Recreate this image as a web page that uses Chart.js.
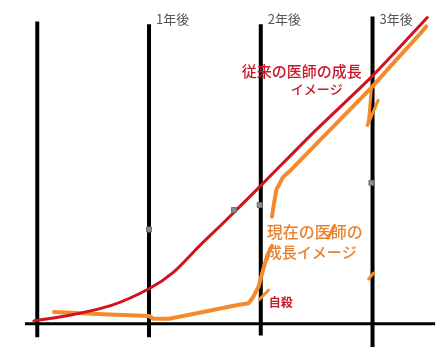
<!DOCTYPE html>
<html>
<head>
<meta charset="utf-8">
<script src="https://cdn.jsdelivr.net/npm/chart.js@4"></script>
<style>
  body { margin: 0; background: #fff; }
  canvas { display: block; }
</style>
</head>
<body>
<canvas class="growth-chart" width="444" height="354"></canvas>
<script>
// years after graduation (x) and "growth" level (y)
const redYears = [-0.03, 0.3, 0.67, 1.0, 1.22, 1.46, 1.65, 2.0, 2.5, 3.0, 3.49];
const redValues = [0.9, 2.8, 6.0, 11.3, 16.7, 25.5, 32.1, 44.7, 62.9, 80.2, 99.1];

const orangeYears = [0.15, 0.59, 1.0, 1.04, 1.18, 1.35, 1.65, 1.78, 1.89, 1.93, 1.98, 2.02, 2.06, 2.1,
    2.1, 2.1, 2.12, 2.14, 2.2, 2.26, 2.53, 2.82, 2.99, 3.2, 3.43, 3.48];
const orangeValues = [3.8, 3.1, 2.5, 1.6, 1.6, 2.8, 5.0, 6.0, 6.6, 8.5, 12.0, 17.3, 22.3, 25.2,
    null, 34.6, 39.3, 43.4, 47.5, 49.4, 59.4, 70.1, 76.4, 84.9, 94.0, 96.2];

// little extra brush strokes on the orange curve
const strokes = [
    { years: [2.99, 2.965, 2.95, 3.05], values: [76.1, 66.0, 63.8, 72.3] },
    { years: [2.965, 3.01], values: [14.5, 16.4] },
    { years: [2.6, 2.66], values: [27.7, 31.8] },
    { years: [1.99, 2.07], values: [7.9, 10.9] },
];

const markerYears = [1.0, 1.76, 1.99, 2.99];
const markerValues = [30.5, 36.8, 38.4, 45.6];

const gridYears = [0, 1, 2, 3];
const gridTop = [97.8, 96.9, 96.9, 99.4];
const gridBottom = [-4.4, -4.4, -3.8, -7.5];
const axisFrom = -0.11;
const axisTo = 3.56;

const yearLabels = ["1年後", "2年後", "3年後"];
const yearLabelAt = [1, 2, 3];

const toPoints = (xs, ys) => xs.map((v, i) => ({ x: v, y: ys[i] }));

const red = "#d0141e";
const orange = "#f58a2c";

const datasets = [];

gridYears.forEach((yr, i) => {
    datasets.push({
        data: [{ x: yr, y: gridBottom[i] }, { x: yr, y: gridTop[i] }],
        borderColor: "#000",
        borderWidth: 4,
        order: 10,
    });
});

datasets.push({
    data: [{ x: axisFrom, y: 0 }, { x: axisTo, y: 0 }],
    borderColor: "#000",
    borderWidth: 3,
    order: 10,
});

datasets.push({
    data: toPoints(orangeYears, orangeValues),
    borderColor: orange,
    borderWidth: 4,
    borderCapStyle: "round",
    borderJoinStyle: "round",
    spanGaps: false,
    order: 5,
});

strokes.forEach(s => {
    datasets.push({
        data: toPoints(s.years, s.values),
        borderColor: orange,
        borderWidth: 3,
        borderCapStyle: "round",
        order: 5,
    });
});

datasets.push({
    data: toPoints(redYears, redValues),
    borderColor: red,
    borderWidth: 3,
    borderCapStyle: "round",
    borderJoinStyle: "round",
    tension: 0.25,
    order: 3,
});

datasets.push({
    data: toPoints(markerYears, markerValues),
    showLine: false,
    pointStyle: "rect",
    pointRadius: 3.5,
    backgroundColor: "#8c8c8c",
    borderColor: "#6e6e6e",
    borderWidth: 1,
    order: 1,
});

const textPlugin = {
    id: "texts",
    afterDatasetsDraw(chart) {
        const { ctx, scales: { x } } = chart;
        ctx.save();
        ctx.textBaseline = "middle";
        ctx.textAlign = "left";

        ctx.font = '13px "Noto Sans CJK JP"';
        ctx.fillStyle = "#555";
        yearLabels.forEach((t, i) => {
            ctx.fillText(t, x.getPixelForValue(yearLabelAt[i]) + 7, 19);
        });

        const line2 = x.getPixelForValue(2);

        ctx.fillStyle = "#c8182a";
        ctx.font = '500 15px "Noto Sans CJK JP"';
        ctx.fillText("従来の医師の成長", line2 - 19, 71);
        ctx.font = '500 13px "Noto Sans CJK JP"';
        ctx.fillText("イメージ", line2 + 30, 89);

        ctx.fillStyle = "#e9822e";
        ctx.font = '500 16px "Noto Sans CJK JP"';
        ctx.fillText("現在の医師の", line2 + 6, 232);
        ctx.font = '500 15px "Noto Sans CJK JP"';
        ctx.fillText("成長イメージ", line2 + 6, 252);

        ctx.fillStyle = "#c8182a";
        ctx.font = 'bold 12px "Noto Sans CJK JP"';
        ctx.fillText("自殺", line2 + 8, 302);

        ctx.restore();
    }
};

const growthChart = document.querySelector(".growth-chart");

new Chart(growthChart, {
    type: "scatter",
    data: { datasets: datasets.map(d => Object.assign({ showLine: true, pointRadius: 0, fill: false }, d)) },
    options: {
        responsive: false,
        animation: false,
        devicePixelRatio: 1,
        layout: { padding: 0 },
        plugins: { legend: { display: false }, tooltip: { enabled: false } },
        scales: {
            x: { type: "linear", display: false, min: -0.2886, max: 3.5947 },
            y: { type: "linear", display: false, min: -8.18, max: 103.14 }
        }
    },
    plugins: [textPlugin]
});
</script>
</body>
</html>
